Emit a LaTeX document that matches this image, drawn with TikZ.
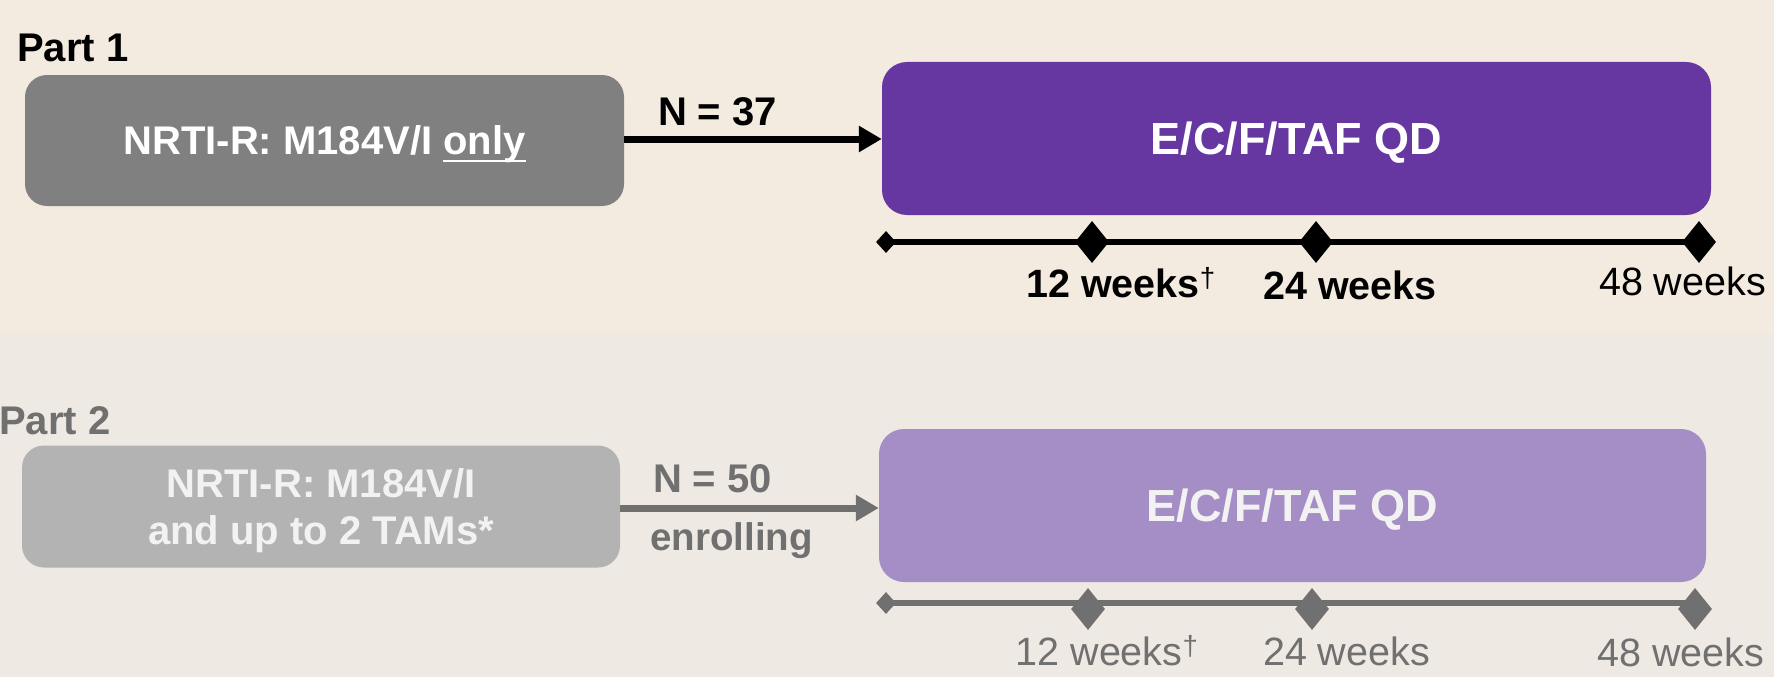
\documentclass[tikz,border=0pt]{standalone}
\usepackage{fontspec}
\setmainfont{Liberation Sans}
\usetikzlibrary{shapes.geometric,arrows.meta}
\definecolor{bgtop}{RGB}{243,235,223}
\definecolor{bgbot}{RGB}{238,233,227}
\definecolor{boxgray}{RGB}{128,128,128}
\definecolor{boxlight}{RGB}{179,179,179}
\definecolor{purdark}{RGB}{102,55,160}
\definecolor{purlight}{RGB}{165,141,197}
\definecolor{txtgray}{RGB}{112,112,112}
\definecolor{txtlight}{RGB}{242,242,242}
\newcommand\ulonly[1]{\setbox0\hbox{#1}\rlap{\rule[-0.17em]{\wd0}{0.05em}}\box0}
\begin{document}
\begin{tikzpicture}[x=1pt,y=-1pt,
  armbox/.style={rounded corners=22pt, inner sep=0pt, align=center,
    minimum width=599pt, text height=28.6pt, text depth=0pt,
    font=\bfseries\fontsize{40}{47}\selectfont},
  drugbox/.style={rounded corners=25pt, inner sep=0pt, minimum height=153pt,
    text height=32.2pt, text depth=0pt, font=\bfseries\fontsize{45}{54}\selectfont},
  flowarrow/.style={line width=7pt, -{Triangle[length=23pt,width=25pt]}},
  tline/.style={line width=6pt},
  dsmall/.style={diamond, inner sep=0pt, minimum width=20pt, minimum height=22pt, draw=none},
  dbig/.style={diamond, inner sep=0pt, minimum width=34pt, minimum height=42pt, draw=none},
  lbl/.style={inner sep=0pt, anchor=base},
  bigfont/.style={font=\bfseries\fontsize{40}{48}\selectfont},
  wkbold/.style={lbl, font=\bfseries\fontsize{39.5}{47}\selectfont},
  wkreg/.style={lbl, font=\fontsize{39.5}{47}\selectfont}
]
\useasboundingbox (0,0) rectangle (1774,677);
% backgrounds
\fill[bgtop] (0,0) rectangle (1774,333);
\fill[bgbot] (0,333) rectangle (1774,677);

% ---------------- Part 1 ----------------
\node[lbl, anchor=base west, bigfont, text=black] (p1) at (17,62) {Part 1};
\node[armbox, fill=boxgray, text=white, minimum height=131pt] (box1) at (324.5,140.5)
  {NRTI-R: M184V/I \ulonly{only}};
\node[drugbox, fill=purdark, text=white, minimum width=829pt] (pur1) at (1296.5,138.5) {E/C/F/TAF QD};
\draw[flowarrow, black] (box1.east |- 0,139) -- (pur1.west |- 0,139);
\node[lbl, bigfont, text=black] (n37) at (717.5,125) {N = 37};

\node[dsmall, fill=black] (t1s) at (886,242) {};
\node[dbig, fill=black] (t1a) at (1092,242) {};
\node[dbig, fill=black] (t1b) at (1316,242) {};
\node[dbig, fill=black] (t1c) at (1699,242) {};
\draw[tline, black] (t1s.center) -- (t1c.center);
\node[wkbold, text=black] (l1a) at (1121,297) {12 weeks\textsuperscript{\mdseries †}};
\node[wkbold, text=black] (l1b) at (1350,299) {24 weeks};
\node[wkreg, text=black] (l1c) at (1682.5,295) {48 weeks};

% ---------------- Part 2 ----------------
\node[lbl, anchor=base west, bigfont, text=txtgray] (p2) at (-1,434) {Part 2};
\node[armbox, fill=boxlight, text=txtlight, minimum width=598pt, minimum height=122pt,
      text height=75.6pt] (box2) at (321,506.5)
  {NRTI-R: M184V/I\\and up to 2 TAMs*};
\node[drugbox, fill=purlight, text=txtlight, minimum width=827pt] (pur2) at (1292.5,505.5) {E/C/F/TAF QD};
\draw[flowarrow, txtgray] (box2.east |- 0,508) -- (pur2.west |- 0,508);
\node[lbl, bigfont, text=txtgray] (n50) at (712.5,492) {N = 50};
\node[lbl, font=\bfseries\fontsize{38.5}{46}\selectfont, text=txtgray] (enr) at (731.5,550) {enrolling};

\node[dsmall, fill=txtgray] (t2s) at (886,603) {};
\node[dbig, fill=txtgray] (t2a) at (1088,609) {};
\node[dbig, fill=txtgray] (t2b) at (1312,609) {};
\node[dbig, fill=txtgray] (t2c) at (1695,609) {};
\draw[tline, txtgray] (t2s.center) -- (t2s.center -| t2c.center);
\node[wkreg, text=txtgray] (l2a) at (1107,665) {12 weeks\textsuperscript{†}};
\node[wkreg, text=txtgray] (l2b) at (1346.5,665) {24 weeks};
\node[wkreg, text=txtgray] (l2c) at (1681,666) {48 weeks};
\end{tikzpicture}
\end{document}
